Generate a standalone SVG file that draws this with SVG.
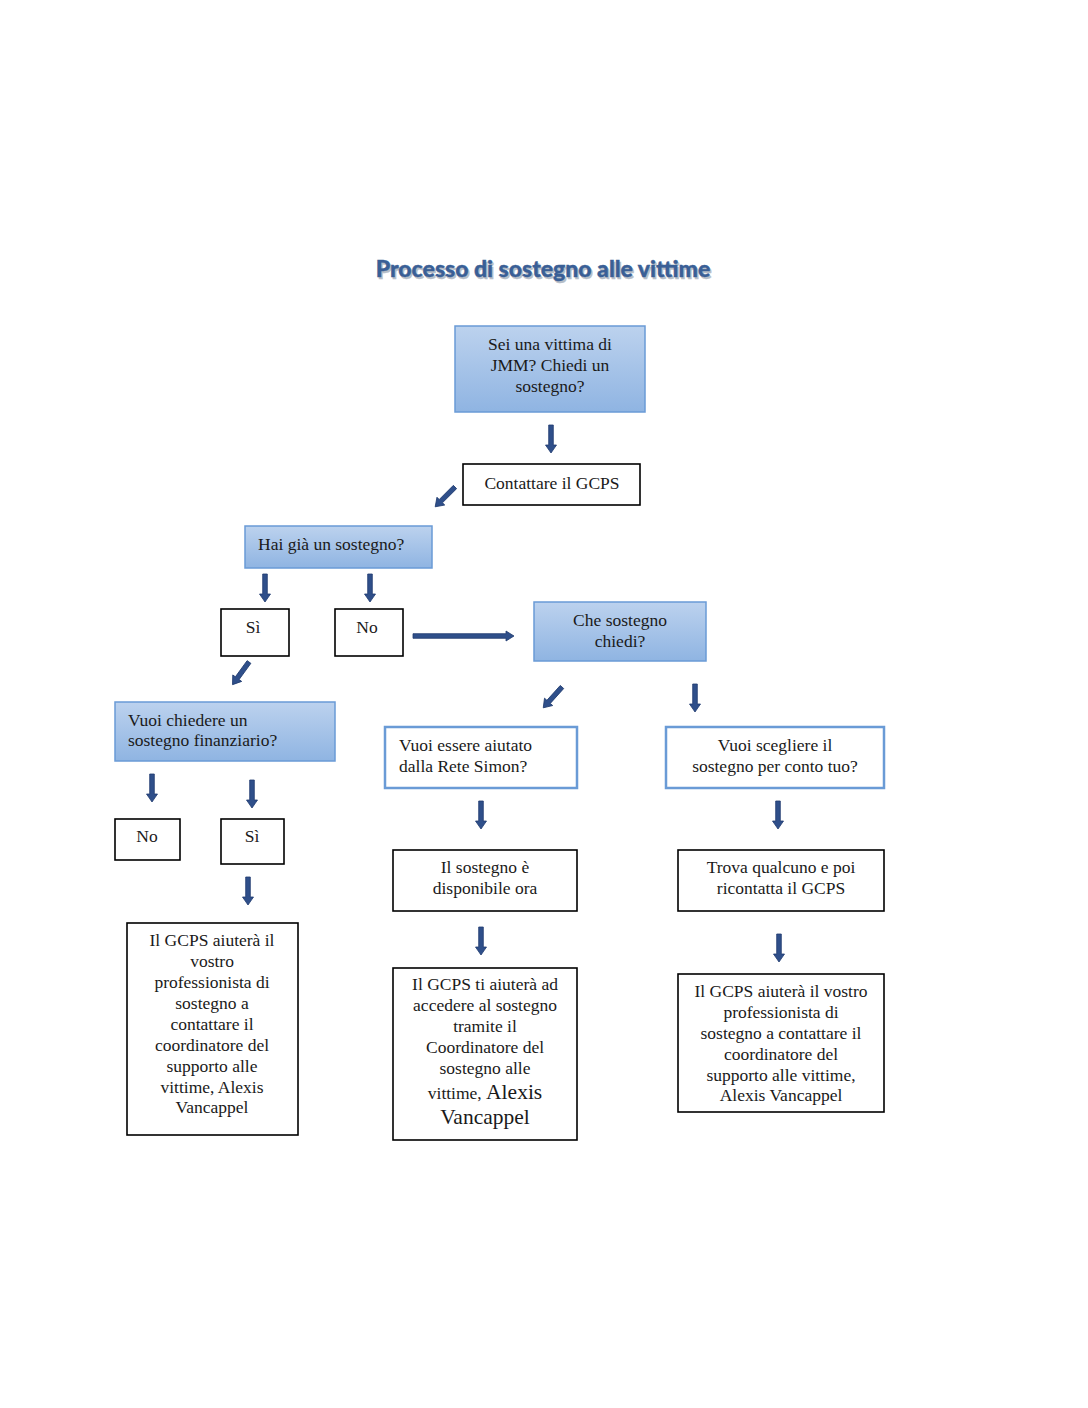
<svg xmlns="http://www.w3.org/2000/svg" xmlns:xlink="http://www.w3.org/1999/xlink" width="1088" height="1408" viewBox="0 0 1088 1408">
<style>
.t{font-family:"Liberation Serif","DejaVu Serif",serif;font-size:17.5px;fill:#1a1a1a;}
.c{text-anchor:middle;}
.blue{fill:url(#g);stroke:#6a9bd6;stroke-width:1.5;}
.wb{fill:#fff;stroke:#6a9bd6;stroke-width:2.5;}
.wk{fill:#fff;stroke:#000;stroke-width:1.6;}
.arr{fill:#2f4f8a;stroke:#1f3a6e;stroke-width:0.8;}
.title{font-family:"Lato","Open Sans",sans-serif;font-weight:900;font-size:23px;text-anchor:middle;}
</style>
<defs>
<linearGradient id="g" x1="0" y1="0" x2="0" y2="1">
<stop offset="0" stop-color="#bcd2ee"/>
<stop offset="1" stop-color="#8fb4e2"/>
</linearGradient>
<path id="ad" d="M-2.3,0 H2.3 V20 H5.5 L0,28 L-5.5,20 H-2.3 Z"/>
</defs>
<rect width="1088" height="1408" fill="#fff"/>
<text class="title" x="544.5" y="278.5" fill="#b7bec8" stroke="#b7bec8" stroke-width="0.4">Processo di sostegno alle vittime</text>
<text class="title" x="543" y="277" fill="#3a5f96" stroke="#3a5f96" stroke-width="0.4">Processo di sostegno alle vittime</text>

<g id="connectors">
<use xlink:href="#ad" class="arr" transform="translate(551,425)"/>
<use xlink:href="#ad" class="arr" transform="translate(455,487) rotate(45)"/>
<use xlink:href="#ad" class="arr" transform="translate(265,574)"/>
<use xlink:href="#ad" class="arr" transform="translate(370,574)"/>
<path class="arr" d="M413,633.7 H506 V631 L514,636 L506,641 V638.3 H413 Z"/>
<use xlink:href="#ad" class="arr" transform="translate(249,662) rotate(36)"/>
<use xlink:href="#ad" class="arr" transform="translate(152,774)"/>
<use xlink:href="#ad" class="arr" transform="translate(252,780)"/>
<use xlink:href="#ad" class="arr" transform="translate(248,877)"/>
<use xlink:href="#ad" class="arr" transform="translate(562,687) rotate(42)"/>
<use xlink:href="#ad" class="arr" transform="translate(695,684)"/>
<use xlink:href="#ad" class="arr" transform="translate(481,801)"/>
<use xlink:href="#ad" class="arr" transform="translate(778,801)"/>
<use xlink:href="#ad" class="arr" transform="translate(481,927)"/>
<use xlink:href="#ad" class="arr" transform="translate(779,934)"/>
</g>

<g id="n1">
<rect class="blue" x="455" y="326" width="190" height="86"/>
<text class="t c" x="550" y="350">Sei una vittima di</text>
<text class="t c" x="550" y="371">JMM? Chiedi un</text>
<text class="t c" x="550" y="392">sostegno?</text>
</g>
<g id="n2">
<rect class="wk" x="463" y="464" width="177" height="41"/>
<text class="t c" x="552" y="489">Contattare il GCPS</text>
</g>
<g id="n3">
<rect class="blue" x="245" y="526" width="187" height="42"/>
<text class="t" x="258" y="550">Hai già un sostegno?</text>
</g>
<g id="n4">
<rect class="wk" x="221" y="609" width="68" height="47"/>
<text class="t c" x="253" y="633">Sì</text>
</g>
<g id="n5">
<rect class="wk" x="335" y="609" width="68" height="47"/>
<text class="t c" x="367" y="633">No</text>
</g>
<g id="n6">
<rect class="blue" x="534" y="602" width="172" height="59"/>
<text class="t c" x="620" y="626">Che sostegno</text>
<text class="t c" x="620" y="647">chiedi?</text>
</g>
<g id="n7">
<rect class="blue" x="115" y="702" width="220" height="59"/>
<text class="t" x="128" y="726">Vuoi chiedere un</text>
<text class="t" x="128" y="746">sostegno finanziario?</text>
</g>
<g id="n8">
<rect class="wk" x="115" y="819" width="65" height="41"/>
<text class="t c" x="147" y="842">No</text>
</g>
<g id="n9">
<rect class="wk" x="221" y="819" width="63" height="45"/>
<text class="t c" x="252" y="842">Sì</text>
</g>
<g id="n10">
<rect class="wk" x="127" y="923" width="171" height="212"/>
<text class="t c" x="212" y="946">Il GCPS aiuterà il</text>
<text class="t c" x="212" y="967">vostro</text>
<text class="t c" x="212" y="988">professionista di</text>
<text class="t c" x="212" y="1009">sostegno a</text>
<text class="t c" x="212" y="1030">contattare il</text>
<text class="t c" x="212" y="1051">coordinatore del</text>
<text class="t c" x="212" y="1072">supporto alle</text>
<text class="t c" x="212" y="1093">vittime, Alexis</text>
<text class="t c" x="212" y="1113">Vancappel</text>
</g>
<g id="n11">
<rect class="wb" x="385" y="727" width="192" height="61"/>
<text class="t" x="399" y="751">Vuoi essere aiutato</text>
<text class="t" x="399" y="772">dalla Rete Simon?</text>
</g>
<g id="n12">
<rect class="wb" x="666" y="727" width="218" height="61"/>
<text class="t c" x="775" y="751">Vuoi scegliere il</text>
<text class="t c" x="775" y="772">sostegno per conto tuo?</text>
</g>
<g id="n13">
<rect class="wk" x="393" y="850" width="184" height="61"/>
<text class="t c" x="485" y="873">Il sostegno è</text>
<text class="t c" x="485" y="894">disponibile ora</text>
</g>
<g id="n14">
<rect class="wk" x="678" y="850" width="206" height="61"/>
<text class="t c" x="781" y="873">Trova qualcuno e poi</text>
<text class="t c" x="781" y="894">ricontatta il GCPS</text>
</g>
<g id="n15">
<rect class="wk" x="393" y="968" width="184" height="172"/>
<text class="t c" x="485" y="990">Il GCPS ti aiuterà ad</text>
<text class="t c" x="485" y="1011">accedere al sostegno</text>
<text class="t c" x="485" y="1032">tramite il</text>
<text class="t c" x="485" y="1053">Coordinatore del</text>
<text class="t c" x="485" y="1074">sostegno alle</text>
<text class="t c" x="485" y="1099">vittime, <tspan style="font-size:21.5px">Alexis</tspan></text>
<text class="t c" x="485" y="1124" style="font-size:21.5px">Vancappel</text>
</g>
<g id="n16">
<rect class="wk" x="678" y="974" width="206" height="138"/>
<text class="t c" x="781" y="997">Il GCPS aiuterà il vostro</text>
<text class="t c" x="781" y="1018">professionista di</text>
<text class="t c" x="781" y="1039">sostegno a contattare il</text>
<text class="t c" x="781" y="1060">coordinatore del</text>
<text class="t c" x="781" y="1081">supporto alle vittime,</text>
<text class="t c" x="781" y="1101">Alexis Vancappel</text>
</g>
</svg>
